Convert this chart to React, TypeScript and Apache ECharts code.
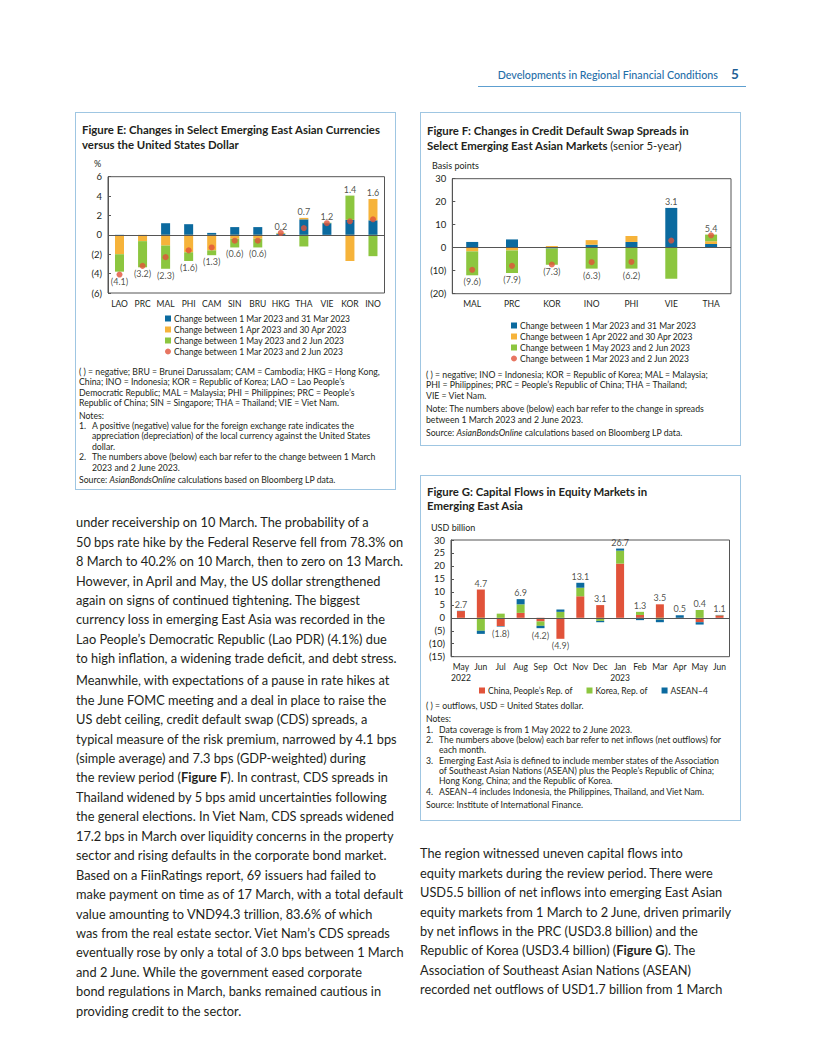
import React, { useEffect, useRef } from "react";
import * as echarts from "echarts";

const FONT = 'Lato, "Noto Sans", "DejaVu Sans", sans-serif';
const TXT = "#231f20";
const BLUE = "#0b6a9f";
const ORANGE = "#f6b33a";
const GREEN = "#8cc63f";
const RED = "#e1533a";

// ---------- Figure E data ----------
const eCategories = ["LAO", "PRC", "MAL", "PHI", "CAM", "SIN", "BRU", "HKG", "THA", "VIE", "KOR", "INO"];
const eMar = [-0.1, 0, 1.2, 1.1, 0.2, 0.8, 0.8, 0.1, 1.6, 1.2, 1.55, 1.5];
const eApr = [-1.9, -0.65, -1.1, -1.8, -1.6, -0.4, -0.4, 0.05, 0.15, 0, -2.7, 2.2];
const eMay = [-1.8, -2.7, -2.4, -0.9, -0.5, -0.9, -0.9, 0.05, -1.2, 0.05, 2.5, -2.2];
const eTotal = [-4.1, -3.2, -2.3, -1.6, -1.3, -0.6, -0.6, 0.2, 0.7, 1.2, 1.4, 1.6];

// ---------- Figure F data ----------
const fCategories = ["MAL", "PRC", "KOR", "INO", "PHI", "VIE", "THA"];
const fMar = [2.5, 3.6, -0.4, 1.3, 2.5, 17.3, 1.6];
const fApr = [-1.6, -1.2, 0.7, 2.0, 2.6, 0, 1.2];
const fMay = [-10.4, -9.8, -7.0, -9.1, -9.1, -13.5, 2.9];
const fTotal = [-9.6, -7.9, -7.3, -6.3, -6.2, 3.1, 5.4];

// ---------- Figure G data ----------
const gCategories = ["May\n2022", "Jun", "Jul", "Aug", "Sep", "Oct", "Nov", "Dec", "Jan\n2023", "Feb", "Mar", "Apr", "May", "Jun"];
const gPRC = [2.6, 10.9, -3.2, 1.9, -1.4, -8.1, 8.3, 4.9, 20.9, 1.1, 5.2, -0.5, -1.7, 0.9];
const gKOR = [0, -5.0, 1.6, 3.3, -1.7, 2.3, 3.3, -1.2, 5.0, 1.2, -0.7, 0, 3.0, 0.1];
const gASEAN = [0.1, -1.2, -0.2, 2.0, -0.9, 0.9, 1.9, -0.5, 0.8, -0.9, -1.0, 1.0, -0.9, 0.1];
const gNet = [2.7, 4.7, -1.8, 6.9, -4.2, -4.9, 13.1, 3.1, 26.7, 1.3, 3.5, 0.5, 0.4, 1.1];

const legendE = [
  "Change between 1 Mar 2023 and 31 Mar 2023",
  "Change between 1 Apr 2023 and 30 Apr 2023",
  "Change between 1 May 2023 and 2 Jun 2023",
  "Change between 1 Mar 2023 and 2 Jun 2023",
];
const legendF = [
  "Change between 1 Mar 2023 and 31 Mar 2023",
  "Change between 1 Apr 2022 and 30 Apr 2023",
  "Change between 1 May 2023 and 2 Jun 2023",
  "Change between 1 Mar 2023 and 2 Jun 2023",
];
const legendG = ["China, People\u2019s Rep. of", "Korea, Rep. of", "ASEAN\u20134"];

const fmtVal = (v: number) => (v < 0 ? `(${Math.abs(v).toFixed(1)})` : v.toFixed(1));
const fmtAxis = (v: number) => (v < 0 ? `(${Math.abs(v)})` : `${v}`);

function labelPoints(parts: number[][], totals: number[]) {
  return totals.map((t, i) => {
    const pos = parts.reduce((s, a) => s + (a[i] > 0 ? a[i] : 0), 0);
    const neg = parts.reduce((s, a) => s + (a[i] < 0 ? a[i] : 0), 0);
    return t >= 0
      ? { value: Math.max(pos, t), label: { position: "top" } }
      : { value: Math.min(neg, t), label: { position: "bottom" } };
  });
}

function baseAxes(cats: string[], min: number, max: number, interval: number, labelSize: number) {
  return {
    xAxis: {
      type: "category",
      data: cats,
      axisLine: { show: false },
      axisTick: { show: false },
      axisLabel: { color: TXT, fontSize: labelSize, margin: 5, interval: 0, fontFamily: FONT, lineHeight: 11 },
    },
    yAxis: {
      type: "value",
      min,
      max,
      interval,
      splitLine: { show: false },
      axisLine: { show: true, lineStyle: { color: "#555", width: 1 } },
      axisTick: { show: true, inside: true, length: 3, lineStyle: { color: "#555" } },
      axisLabel: { color: TXT, fontSize: 9.5, margin: 6, formatter: fmtAxis, fontFamily: FONT },
    },
  };
}

const zeroLine = {
  silent: true,
  symbol: "none",
  label: { show: false },
  lineStyle: { color: "#555", width: 1, type: "solid" },
  data: [{ yAxis: 0 }],
};

function stackedOption(opts: {
  cats: string[];
  parts: number[][];
  names: string[];
  colors: string[];
  totals: number[];
  dotName?: string;
  min: number;
  max: number;
  interval: number;
  grid: any;
  barWidth: number;
  legend: any;
  labelSize: number;
}) {
  const axes = baseAxes(opts.cats, opts.min, opts.max, opts.interval, opts.labelSize);
  const series: any[] = opts.parts.map((p, k) => ({
    name: opts.names[k],
    type: "bar",
    stack: "s",
    data: p,
    barWidth: opts.barWidth,
    itemStyle: { color: opts.colors[k] },
    markLine: k === 0 ? zeroLine : undefined,
    z: 2,
  }));
  if (opts.dotName) {
    series.push({
      name: opts.dotName,
      type: "scatter",
      data: opts.totals,
      symbol: "circle",
      symbolSize: 6,
      itemStyle: { color: RED },
      z: 5,
    });
  }
  series.push({
    name: "labels",
    type: "scatter",
    data: labelPoints(opts.parts, opts.totals),
    symbolSize: 0,
    silent: true,
    label: {
      show: true,
      distance: 2,
      color: TXT,
      fontSize: 9,
      fontFamily: FONT,
      formatter: (p: any) => fmtVal(opts.totals[p.dataIndex]),
    },
    z: 6,
  });
  const legendData = opts.names.map((n) => ({ name: n, icon: "rect" }));
  if (opts.dotName) legendData.push({ name: opts.dotName, icon: "circle" });
  return {
    animation: false,
    textStyle: { fontFamily: FONT },
    grid: { ...opts.grid, show: true, borderColor: "#555", borderWidth: 1, backgroundColor: "transparent" },
    ...axes,
    legend: {
      data: legendData,
      itemWidth: 6,
      itemHeight: 6,
      selectedMode: false,
      textStyle: { color: TXT, fontSize: 8.5, fontFamily: FONT, lineHeight: 11, padding: [0, 0, 0, -2] },
      ...opts.legend,
    },
    series,
  };
}

const optionE = stackedOption({
  cats: eCategories,
  parts: [eMar, eApr, eMay],
  names: legendE.slice(0, 3),
  colors: [BLUE, ORANGE, GREEN],
  totals: eTotal,
  dotName: legendE[3],
  min: -6,
  max: 6,
  interval: 2,
  grid: { left: 32, top: 26.7, right: 9.5, bottom: 97 },
  barWidth: 9,
  labelSize: 8.5,
  legend: { orient: "vertical", left: 84, top: 158, itemGap: 0, height: 70 },
});

const optionF = stackedOption({
  cats: fCategories,
  parts: [fMar, fApr, fMay],
  names: legendF.slice(0, 3),
  colors: [BLUE, ORANGE, GREEN],
  totals: fTotal,
  dotName: legendF[3],
  min: -20,
  max: 30,
  interval: 10,
  grid: { left: 30.3, top: 23.7, right: 7, bottom: 101.3 },
  barWidth: 12,
  labelSize: 8.5,
  legend: { orient: "vertical", left: 84, top: 160, itemGap: 0, height: 70 },
});

const optionG = stackedOption({
  cats: gCategories,
  parts: [gPRC, gKOR, gASEAN],
  names: legendG,
  colors: [RED, GREEN, BLUE],
  totals: gNet,
  min: -15,
  max: 30,
  interval: 5,
  grid: { left: 29, top: 22, right: 8.5, bottom: 43.3 },
  barWidth: 8,
  labelSize: 8.5,
  legend: { orient: "horizontal", left: 52, top: 162, itemGap: 14 },
});

function EChart({ option, style }: { option: any; style: React.CSSProperties }) {
  const ref = useRef<HTMLDivElement>(null);
  useEffect(() => {
    if (!ref.current) return;
    const c = echarts.init(ref.current, null, { renderer: "svg" });
    c.setOption(option);
    return () => c.dispose();
  }, [option]);
  return <div ref={ref} style={{ position: "absolute", ...style }} />;
}

const abs = (left: number, top: number, extra: React.CSSProperties = {}): React.CSSProperties => ({
  position: "absolute",
  left,
  top,
  ...extra,
});

function Lines({ lines, left, top, lh, size, color = TXT }: { lines: React.ReactNode[]; left: number; top: number; lh: number; size: number; color?: string }) {
  return (
    <div style={abs(left, top, { fontSize: size, lineHeight: `${lh}px`, color, whiteSpace: "nowrap", fontFamily: FONT })}>
      {lines.map((l, i) => (
        <div key={i} style={{ height: lh }}>
          {l}
        </div>
      ))}
    </div>
  );
}

const NOTE_LH = 10.4;
const NOTE_SIZE = 8.7;

function NoteItem({ n, lines }: { n: string; lines: string[] }) {
  return (
    <div style={{ display: "flex" }}>
      <div style={{ width: 13 }}>{n}</div>
      <div>
        {lines.map((l, i) => (
          <div key={i} style={{ height: NOTE_LH }}>
            {l}
          </div>
        ))}
      </div>
    </div>
  );
}

const box = (left: number, top: number, width: number, height: number): React.CSSProperties => ({
  position: "absolute",
  left,
  top,
  width,
  height,
  border: "1px solid #9fc6e2",
  boxSizing: "border-box",
  background: "#ffffff",
});

const leftPara1 = [
  "under receivership on 10 March. The probability of a",
  "50 bps rate hike by the Federal Reserve fell from 78.3% on",
  "8 March to 40.2% on 10 March, then to zero on 13 March.",
  "However, in April and May, the US dollar strengthened",
  "again on signs of continued tightening. The biggest",
  "currency loss in emerging East Asia was recorded in the",
  "Lao People\u2019s Democratic Republic (Lao PDR) (4.1%) due",
  "to high inflation, a widening trade deficit, and debt stress.",
];
const leftPara2: React.ReactNode[] = [
  "Meanwhile, with expectations of a pause in rate hikes at",
  "the June FOMC meeting and a deal in place to raise the",
  "US debt ceiling, credit default swap (CDS) spreads, a",
  "typical measure of the risk premium, narrowed by 4.1 bps",
  "(simple average) and 7.3 bps (GDP-weighted) during",
  <span>the review period (<b>Figure F</b>). In contrast, CDS spreads in</span>,
  "Thailand widened by 5 bps amid uncertainties following",
  "the general elections. In Viet Nam, CDS spreads widened",
  "17.2 bps in March over liquidity concerns in the property",
  "sector and rising defaults in the corporate bond market.",
  "Based on a FiinRatings report, 69 issuers had failed to",
  "make payment on time as of 17 March, with a total default",
  "value amounting to VND94.3 trillion, 83.6% of which",
  "was from the real estate sector. Viet Nam\u2019s CDS spreads",
  "eventually rose by only a total of 3.0 bps between 1 March",
  "and 2 June. While the government eased corporate",
  "bond regulations in March, banks remained cautious in",
  "providing credit to the sector.",
];
const rightPara: React.ReactNode[] = [
  "The region witnessed uneven capital flows into",
  "equity markets during the review period. There were",
  "USD5.5 billion of net inflows into emerging East Asian",
  "equity markets from 1 March to 2 June, driven primarily",
  "by net inflows in the PRC (USD3.8 billion) and the",
  <span>Republic of Korea (USD3.4 billion) (<b>Figure G</b>). The</span>,
  "Association of Southeast Asian Nations (ASEAN)",
  "recorded net outflows of USD1.7 billion from 1 March",
];

const BODY_LH = 19.45;
const BODY_SIZE = 12.8;

export default function App() {
  const titleStyle: React.CSSProperties = { fontSize: 11.4, fontWeight: 700, lineHeight: "14.5px", color: TXT, whiteSpace: "nowrap" };
  const noteStyle: React.CSSProperties = { fontSize: NOTE_SIZE, lineHeight: `${NOTE_LH}px`, color: TXT, whiteSpace: "nowrap" };
  return (
    <div style={{ position: "absolute", left: 0, top: 0, width: 816, height: 1056, background: "#fff", fontFamily: FONT, overflow: "hidden" }}>
      {/* header */}
      <div style={abs(400, 68, { width: 318, textAlign: "right", fontSize: 10.7, color: "#1f6ea8", fontWeight: 500, whiteSpace: "nowrap" })}>
        Developments in Regional Financial Conditions
      </div>
      <div style={abs(731, 66, { fontSize: 13.5, fontWeight: 700, color: "#1f5f95" })}>5</div>
      <div style={abs(478, 86, { width: 268, height: 1, background: "#5d9fd0" })} />

      {/* Figure E */}
      <div style={box(75, 112, 321, 378)} />
      <div style={abs(82, 123, titleStyle)}>
        <div>Figure E: Changes in Select Emerging East Asian Currencies</div>
        <div>versus the United States Dollar</div>
      </div>
      <div style={abs(94, 158, { fontSize: 9, color: TXT })}>%</div>
      <EChart option={optionE} style={{ left: 76, top: 150, width: 318, height: 240 }} />
      <div style={abs(79, 367, noteStyle)}>
        <div>( ) = negative; BRU = Brunei Darussalam; CAM = Cambodia; HKG = Hong Kong,</div>
        <div>China; INO = Indonesia; KOR = Republic of Korea; LAO = Lao People{"\u2019"}s</div>
        <div>Democratic Republic; MAL = Malaysia; PHI = Philippines; PRC = People{"\u2019"}s</div>
        <div>Republic of China; SIN = Singapore; THA = Thailand; VIE = Viet Nam.</div>
        <div style={{ marginTop: 2 }}>Notes:</div>
        <NoteItem n="1." lines={["A positive (negative) value for the foreign exchange rate indicates the", "appreciation (depreciation) of the local currency against the United States", "dollar."]} />
        <NoteItem n="2." lines={["The numbers above (below) each bar refer to the change between 1 March", "2023 and 2 June 2023."]} />
        <div style={{ marginTop: 2 }}>
          Source: <i>AsianBondsOnline</i> calculations based on Bloomberg LP data.
        </div>
      </div>

      {/* Figure F */}
      <div style={box(420, 112, 321, 334)} />
      <div style={abs(427, 124, titleStyle)}>
        <div>Figure F: Changes in Credit Default Swap Spreads in</div>
        <div>
          Select Emerging East Asian Markets <span style={{ fontWeight: 400 }}>(senior 5-year)</span>
        </div>
      </div>
      <div style={abs(432, 159.5, { fontSize: 9, color: TXT })}>Basis points</div>
      <EChart option={optionF} style={{ left: 422, top: 155, width: 316, height: 240 }} />
      <div style={abs(426, 370, noteStyle)}>
        <div>( ) = negative; INO = Indonesia; KOR = Republic of Korea; MAL = Malaysia;</div>
        <div>PHI = Philippines; PRC = People{"\u2019"}s Republic of China; THA = Thailand;</div>
        <div>VIE = Viet Nam.</div>
        <div style={{ marginTop: 3 }}>Note: The numbers above (below) each bar refer to the change in spreads</div>
        <div>between 1 March 2023 and 2 June 2023.</div>
        <div style={{ marginTop: 3 }}>
          Source: <i>AsianBondsOnline</i> calculations based on Bloomberg LP data.
        </div>
      </div>

      {/* Figure G */}
      <div style={box(420, 475, 321, 346)} />
      <div style={abs(427, 484.5, titleStyle)}>
        <div>Figure G: Capital Flows in Equity Markets in</div>
        <div>Emerging East Asia</div>
      </div>
      <div style={abs(431, 521.5, { fontSize: 9, color: TXT })}>USD billion</div>
      <EChart option={optionG} style={{ left: 422, top: 518, width: 316, height: 182 }} />
      <div style={abs(426, 701.2, noteStyle)}>
        <div>( ) = outflows, USD = United States dollar.</div>
        <div style={{ marginTop: 2.5 }}>Notes:</div>
        <NoteItem n="1." lines={["Data coverage is from 1 May 2022 to 2 June 2023."]} />
        <NoteItem n="2." lines={["The numbers above (below) each bar refer to net inflows (net outflows) for", "each month."]} />
        <NoteItem
          n="3."
          lines={[
            "Emerging East Asia is defined to include member states of the Association",
            "of Southeast Asian Nations (ASEAN) plus the People\u2019s Republic of China;",
            "Hong Kong, China; and the Republic of Korea.",
          ]}
        />
        <NoteItem n="4." lines={["ASEAN\u20134 includes Indonesia, the Philippines, Thailand, and Viet Nam."]} />
        <div style={{ marginTop: 2.5 }}>Source: Institute of International Finance.</div>
      </div>

      {/* body text */}
      <Lines lines={leftPara1} left={76} top={523 - BODY_LH / 2} lh={BODY_LH} size={BODY_SIZE} />
      <Lines lines={leftPara2} left={76} top={681 - BODY_LH / 2} lh={BODY_LH} size={BODY_SIZE} />
      <Lines lines={rightPara} left={420} top={854 - BODY_LH / 2} lh={BODY_LH} size={BODY_SIZE} />
    </div>
  );
}
